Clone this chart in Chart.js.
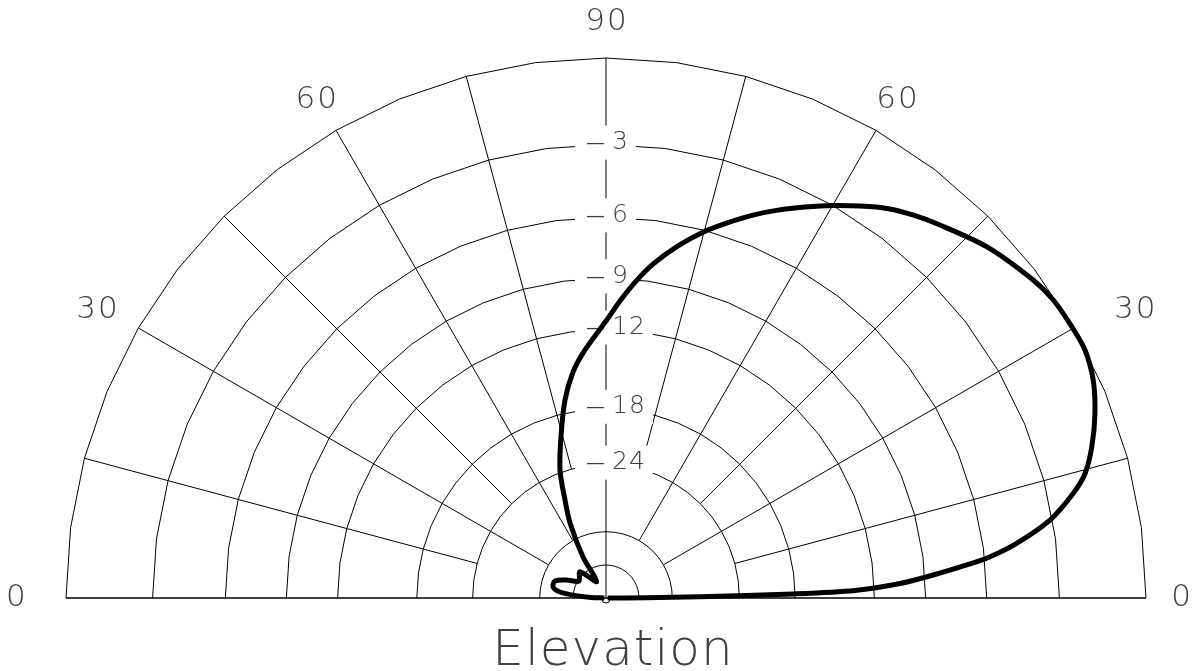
<!DOCTYPE html>
<html lang="en">
<head>
  <meta charset="UTF-8">
  <title>Elevation</title>
  <script src="https://cdn.jsdelivr.net/npm/chart.js"></script>
  <style>
    html, body { margin: 0; padding: 0; background: #fff; }
  </style>
</head>
<body>
  <canvas id="elevationChart" width="1197" height="671"></canvas>

  <script>
    // elevation angle (deg, 0 = right horizon, 180 = left horizon) and gain (dB, 0 = max)
    const elevation = [0, 0.4, 0.73, 1.23, 1.73, 2.82, 4.02, 5.23, 6.14, 7.59, 9.96, 12.63, 14.59, 17.3, 20.69,
      24.1, 27.37, 30.22, 33.67, 36.66, 42.65, 48.16, 51.3, 54.2, 57.05, 59.96, 63.03, 66.09, 69.0, 72.0,
      75.16, 78.44, 81.99, 84.59, 87.3, 90, 94.84, 98.3, 101.7, 105.4, 109.77, 112.7, 115.6, 119.3, 119.7,
      134.7, 148, 155.4, 161.6, 168.3, 172.6, 175.5, 178, 180];
    const gainDb = [-99, -44.7, -30.0, -18.2, -13.28, -10.41, -8.55, -6.85, -5.75, -4.55, -3.10, -2.06, -1.49, -1.02, -0.56,
      -0.2, -0.02, -0.03, -0.08, -0.24, -0.71, -1.30, -1.64, -2.01, -2.49, -3.0, -3.57, -4.14, -4.72, -5.38,
      -6.10, -6.99, -8.08, -9.07, -10.24, -11.46, -13.29, -14.77, -16.86, -19.93, -23.67, -27.91, -32.1, -41.9, -57.6,
      -46.0, -48.5, -43.4, -39.6, -39.5, -42.1, -49.6, -61.5, -99];

    const ringDb = [0, -3, -6, -9, -12, -18, -24, -36, -48];
    const ringLabels = [-3, -6, -9, -12, -18, -24];
    const spokeAngles = [15, 30, 45, 60, 75, 90, 105, 120, 135, 150, 165];
    const angleTicks = [0, 30, 60, 90, 120, 150, 180];
    const angleTickText = ['0', '30', '60', '90', '60', '30', '0'];
    const axisTitle = 'Elevation';

    // ARRL log scale: 0.89 per 2 dB
    function arrl(db) {
      return Math.pow(0.89, -db / 2);
    }

    const patternPoints = elevation.map((a, i) => {
      const r = arrl(gainDb[i]);
      const t = a * Math.PI / 180;
      return { x: r * Math.cos(t), y: r * Math.sin(t) };
    });

    const FONT = '"DejaVu Sans", "Open Sans", sans-serif';
    const TEXT_COLOR = '#404040';

    const polarGrid = {
      id: 'polarGrid',
      beforeDatasetsDraw(chart) {
        const ctx = chart.ctx;
        const xs = chart.scales.x;
        const ys = chart.scales.y;
        const pt = (r, deg) => {
          const t = deg * Math.PI / 180;
          return [xs.getPixelForValue(r * Math.cos(t)), ys.getPixelForValue(r * Math.sin(t))];
        };
        const cx = xs.getPixelForValue(0);
        const cy = ys.getPixelForValue(0);

        ctx.save();
        ctx.strokeStyle = '#000';
        ctx.lineWidth = 1;

        // rings, drawn as polylines with a vertex every 7.5 deg
        ringDb.forEach(db => {
          const r = arrl(db);
          ctx.beginPath();
          for (let a = 0; a <= 180; a += 7.5) {
            const p = pt(r, a);
            if (a === 0) ctx.moveTo(p[0], p[1]); else ctx.lineTo(p[0], p[1]);
          }
          ctx.stroke();
        });

        // spokes: 90 goes to the centre, 30/60 stop at -36, the rest at -24
        spokeAngles.forEach(a => {
          let inner;
          if (a === 90) inner = 0;
          else if (a % 30 === 0) inner = arrl(-36);
          else inner = arrl(-24);
          const p1 = pt(1, a);
          const p2 = pt(inner, a);
          ctx.beginPath();
          ctx.moveTo(p1[0], p1[1]);
          ctx.lineTo(p2[0], p2[1]);
          ctx.stroke();
        });

        // base line
        ctx.lineWidth = 1.6;
        ctx.beginPath();
        ctx.moveTo(xs.getPixelForValue(-1), cy);
        ctx.lineTo(xs.getPixelForValue(1), cy);
        ctx.stroke();

        // small centre marker
        ctx.lineWidth = 1;
        ctx.beginPath();
        ctx.arc(cx, cy + 1, 4, 0, Math.PI);
        ctx.stroke();

        // dB labels on the vertical spoke: minus left of the spoke, digits right of it
        ctx.font = '200 25px ' + FONT;
        ctx.textBaseline = 'middle';
        ctx.letterSpacing = '1px';
        const minusW = 19;
        ringLabels.forEach(db => {
          const y = ys.getPixelForValue(arrl(db)) - 2;
          const num = String(Math.abs(db));
          const w = ctx.measureText(num).width;
          ctx.fillStyle = '#fff';
          ctx.fillRect(cx - minusW - 12, y - 17, minusW + w + 25, 34);
          ctx.fillStyle = TEXT_COLOR;
          ctx.textAlign = 'left';
          ctx.fillText(num, cx + 6, y);
          // minus sign: a dash squeezed to minusW px, ending just left of the spoke
          ctx.save();
          ctx.translate(cx - 1, y + 1);
          ctx.scale(minusW / 25, 1.3);
          ctx.textAlign = 'right';
          ctx.letterSpacing = '0px';
          ctx.fillText('\u2014', 0, 0);
          ctx.restore();
        });

        // angle labels
        ctx.font = '200 31px ' + FONT;
        ctx.letterSpacing = '2px';
        ctx.textAlign = 'center';
        const labelPos = { 0: [1.065, 0], 30: [1.115, 28.6], 60: [1.068, 59.7], 90: [1.067, 90],
          120: [1.067, 120.2], 150: [1.083, 150.5], 180: [1.093, 180] };
        angleTicks.forEach((a, i) => {
          const p = pt(labelPos[a][0], labelPos[a][1]);
          ctx.fillText(angleTickText[i], p[0] + 1, p[1]);
        });

        // axis title
        ctx.font = '200 50px ' + FONT;
        ctx.letterSpacing = '1px';
        ctx.textBaseline = 'alphabetic';
        ctx.fillText(axisTitle, cx + 7, cy + 67);
        ctx.restore();
      }
    };

    const ctx = document.getElementById('elevationChart').getContext('2d');
    new Chart(ctx, {
      type: 'scatter',
      data: {
        datasets: [{
          label: 'Elevation pattern',
          data: patternPoints,
          showLine: true,
          borderColor: '#000',
          borderWidth: 5,
          pointRadius: 0,
          tension: 0.3,
          clip: false
        }]
      },
      options: {
        responsive: false,
        animation: false,
        layout: { padding: { left: 66, right: 51, top: 58, bottom: 73 } },
        scales: {
          x: { type: 'linear', min: -1, max: 1, display: false },
          y: { type: 'linear', min: 0, max: 1, display: false }
        },
        plugins: {
          legend: { display: false },
          tooltip: { enabled: false }
        }
      },
      plugins: [polarGrid]
    });
  </script>
</body>
</html>
